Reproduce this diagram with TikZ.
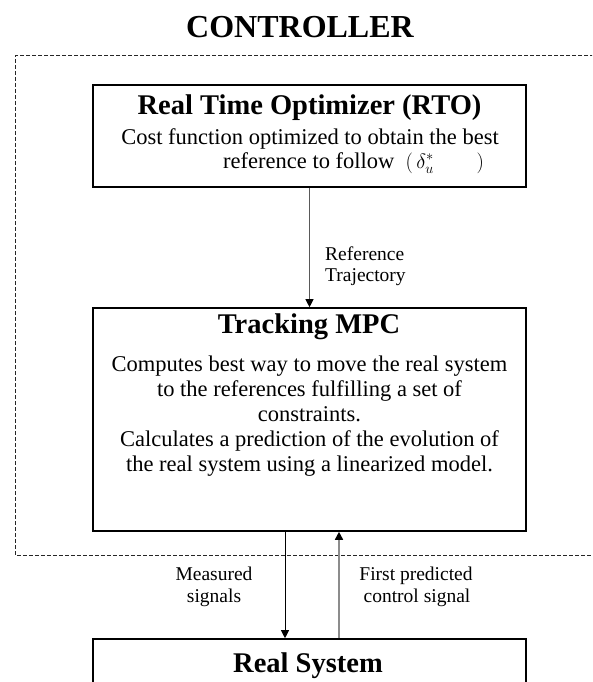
\documentclass[tikz,border=0pt]{standalone}
\usepackage{fontspec}
\setmainfont{Liberation Serif}
\usetikzlibrary{arrows.meta}
\tikzset{
  box/.style={draw=black, line width=1.6pt, minimum width=433pt, inner sep=0pt, fill=none},
  ttl/.style={anchor=base, inner sep=0pt, font=\fontsize{32}{36}\selectfont\bfseries},
  hdr/.style={anchor=base, inner sep=0pt, font=\fontsize{28.5}{32}\selectfont\bfseries},
  body/.style={anchor=base, inner sep=0pt, font=\fontsize{22.5}{25}\selectfont},
  lbl/.style={anchor=base, inner sep=0pt, font=\fontsize{19.5}{22}\selectfont},
  tip/.style={-{Triangle[length=8pt,width=8pt,color=black]}},
  frame/.style={draw=black!85, line width=1pt, dash pattern=on 4pt off 2pt},
}
\begin{document}
\begin{tikzpicture}[x=1pt,y=-1pt]
\useasboundingbox (0,0) rectangle (592,682);
\clip (0,0) rectangle (592,682);
\fill[white] (0,0) rectangle (592,682);
% controller frame
\draw[frame] (600,56) -- (15,56) -- (15,555) -- (600,555);
\node[ttl] (title) at (300,38) {CONTROLLER};
% boxes
\node[box, minimum height=102pt] (rto) at (309.5,136) {};
\node[box, minimum height=223pt] (mpc) at (309.5,419.5) {};
\node[box, minimum height=80pt] (real) at (309.5,679) {};
% RTO texts
\node[hdr] (rtoh) at (309.5,115) {Real Time Optimizer (RTO)};
\node[body, text depth=0pt] (rto1) at (310,144) {Cost function optimized to obtain the best};
\node[body, anchor=base west] (rto2) at (223,168.5) {reference to follow \ $(\,\delta_u^{*}\hspace{1.9em})$};
% MPC texts
\node[hdr] (mpch) at (309,333) {Tracking MPC};
\node[body] (mpc1) at (309.5,371) {Computes best way to move the real system};
\node[body] (mpc2) at (309.5,396) {to the references fulfilling a set of};
\node[body] (mpc3) at (309.5,421) {constraints.};
\node[body] (mpc4) at (309.5,446) {Calculates a prediction of the evolution of};
\node[body] (mpc5) at (309.5,471) {the real system using a linearized model.};
% Real system text
\node[hdr] (realh) at (308,672) {Real System};
% connectors
\coordinate (mx) at (285,0);
\coordinate (fx) at (339,0);
\draw[tip, draw=black!65, line width=0.9pt] (rto.south) -- (mpc.north);
\draw[tip, draw=black, line width=0.9pt] (mpc.south -| mx) -- (real.north -| mx);
\draw[tip, draw=black!45, line width=1.6pt] (real.north -| fx) -- (mpc.south -| fx);
% labels
\node[lbl, anchor=base west] (ref1) at (325,260) {Reference};
\node[lbl, anchor=base west] (ref2) at (325,281) {Trajectory};
\node[lbl] (ms1) at (214,580) {Measured};
\node[lbl] (ms2) at (214,602) {signals};
\node[lbl] (fp1) at (416,580) {First predicted};
\node[lbl] (fp2) at (417,602) {control signal};
\end{tikzpicture}
\end{document}
